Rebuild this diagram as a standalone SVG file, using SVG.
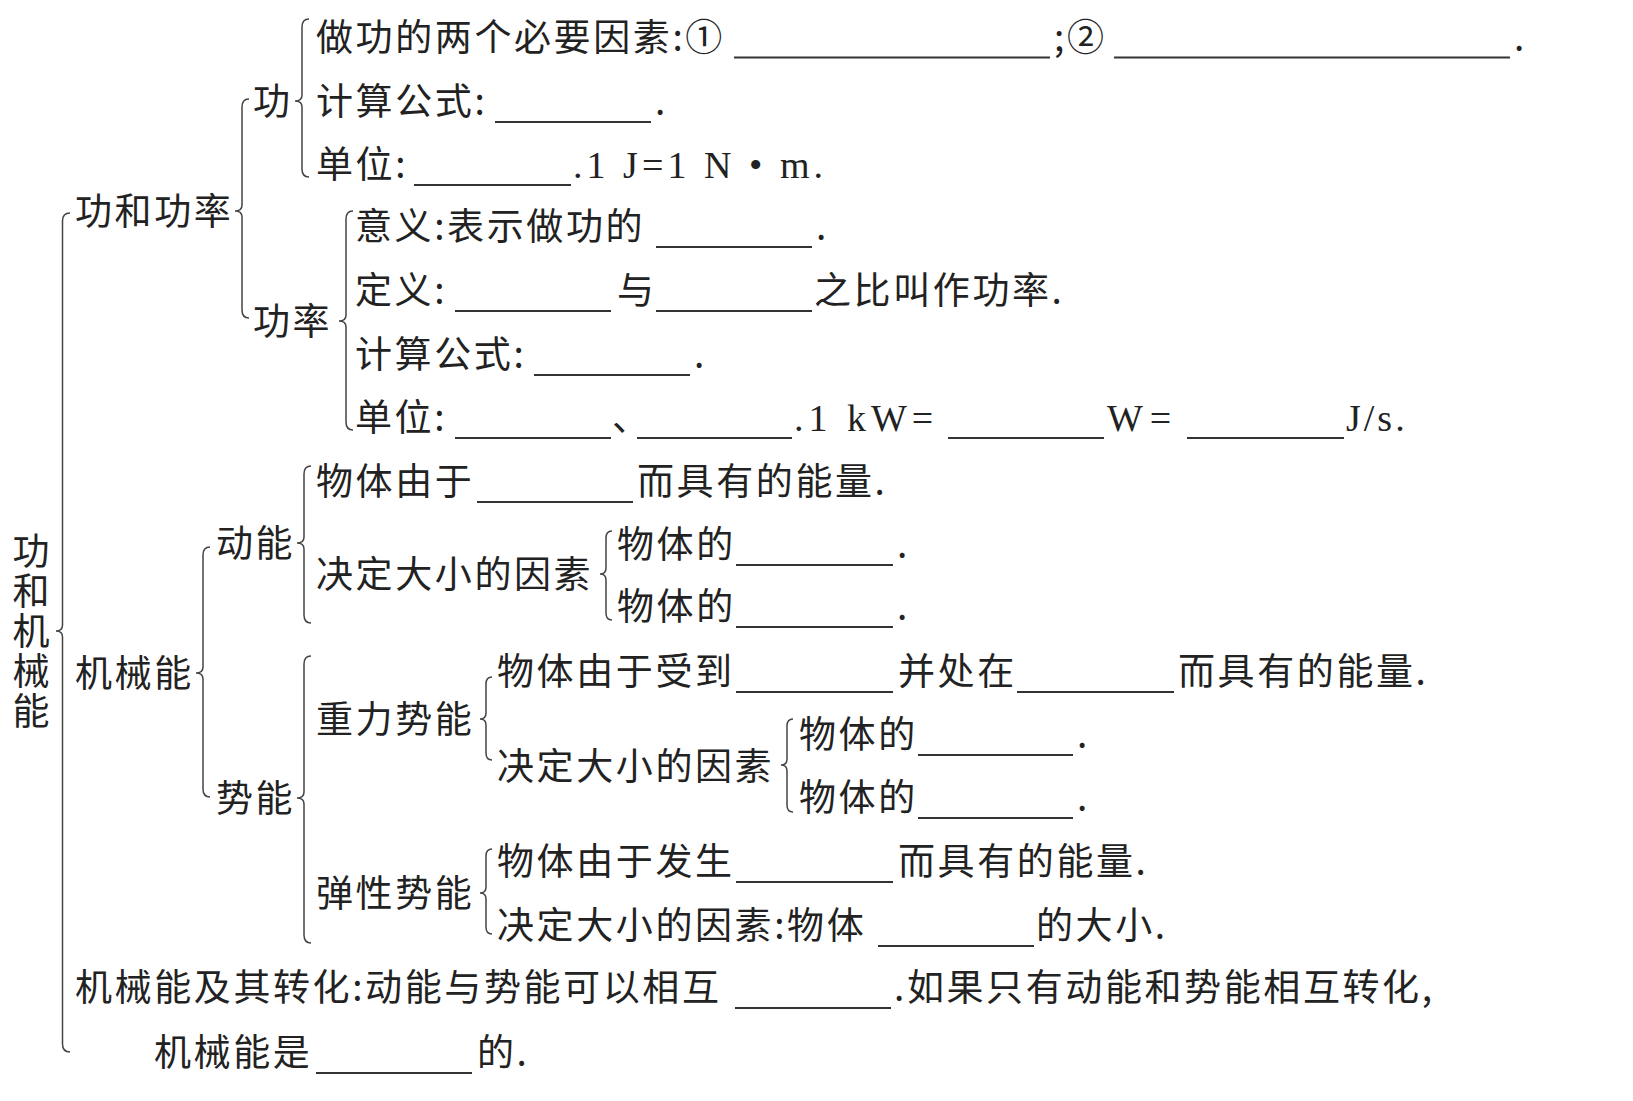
<svg xmlns="http://www.w3.org/2000/svg" width="1633" height="1101" viewBox="0 0 1633 1101">
<style>
.t{font-family:"Noto Sans CJK SC","Noto Sans CJK JP",sans-serif;font-size:37px;fill:#222;letter-spacing:2.6px}
.s{font-family:"Liberation Serif",serif;font-size:38px;fill:#222}
.u{stroke:#333;stroke-width:1.8;fill:none}
.b{stroke:#444;stroke-width:1.5;fill:none}
</style>
<rect width="1633" height="1101" fill="#fff"/>
<g id="connectors">
<path class="b" d="M70,213 Q62.5,213 62.5,221 L62.5,625 Q62.5,631 56,631 Q62.5,631 62.5,637 L62.5,1044 Q62.5,1052 70,1052"/>
<path class="b" d="M249,99 Q242,99 242,107 L242,205 Q242,211 235,211 Q242,211 242,217 L242,310 Q242,318 249,318"/>
<path class="b" d="M309,19 Q302,19 302,27 L302,95 Q302,101 295,101 Q302,101 302,107 L302,169 Q302,177 309,177"/>
<path class="b" d="M353,211 Q346,211 346,219 L346,315 Q346,321 339,321 Q346,321 346,327 L346,422 Q346,430 353,430"/>
<path class="b" d="M210,547 Q203,547 203,555 L203,667 Q203,673 196,673 Q203,673 203,679 L203,789 Q203,797 210,797"/>
<path class="b" d="M311,466 Q304,466 304,474 L304,537 Q304,543 297,543 Q304,543 304,549 L304,615 Q304,623 311,623"/>
<path class="b" d="M612,531 Q606,531 606,538 L606,568 Q606,574 600,574 Q606,574 606,580 L606,613 Q606,620 612,620"/>
<path class="b" d="M311,656 Q304,656 304,664 L304,792 Q304,798 297,798 Q304,798 304,804 L304,935 Q304,943 311,943"/>
<path class="b" d="M492,677 Q486,677 486,684 L486,713 Q486,719 480,719 Q486,719 486,725 L486,753 Q486,760 492,760"/>
<path class="b" d="M793,719 Q787,719 787,726 L787,759 Q787,765 781,765 Q787,765 787,771 L787,805 Q787,812 793,812"/>
<path class="b" d="M492,849 Q486,849 486,856 L486,887 Q486,893 480,893 Q486,893 486,899 L486,927 Q486,934 492,934"/>
</g>
<g id="root">
<text class="t" x="31" y="532" style="writing-mode:vertical-rl;letter-spacing:3px">功和机械能</text>
</g>
<g id="gonghegonglv"><text class="t" x="75" y="225">功和功率</text></g>
<g id="gong"><text class="t" x="253" y="115">功</text></g>
<g id="gong-yaosu">
<text class="t" x="316" y="50.5">做功的两个必要因素:①</text>
<line class="u" x1="734" y1="57.5" x2="1050" y2="57.5"/>
<text class="t" x="1054" y="50.5">;②</text>
<line class="u" x1="1114" y1="57.5" x2="1510" y2="57.5"/>
<text class="t" x="1514" y="50.5">.</text>
</g>
<g id="gong-gongshi">
<text class="t" x="316" y="115">计算公式:</text>
<line class="u" x1="495" y1="122" x2="651" y2="122"/>
<text class="t" x="655" y="115">.</text>
</g>
<g id="gong-danwei">
<text class="t" x="316" y="177.5">单位:</text>
<line class="u" x1="414" y1="185" x2="571" y2="185"/>
<text class="s" x="573" y="177.5" textLength="250" lengthAdjust="spacing">.1 J=1 N • m.</text>
</g>
<g id="gonglv"><text class="t" x="253" y="335">功率</text></g>
<g id="gonglv-yiyi">
<text class="t" x="355" y="240">意义:表示做功的</text>
<line class="u" x1="656" y1="247" x2="812" y2="247"/>
<text class="t" x="816" y="240">.</text>
</g>
<g id="gonglv-dingyi">
<text class="t" x="355" y="303.5">定义:</text>
<line class="u" x1="455" y1="311" x2="611" y2="311"/>
<text class="t" x="617" y="303.5">与</text>
<line class="u" x1="656" y1="311" x2="812" y2="311"/>
<text class="t" x="814" y="303.5">之比叫作功率.</text>
</g>
<g id="gonglv-gongshi">
<text class="t" x="355" y="368">计算公式:</text>
<line class="u" x1="534" y1="375" x2="690" y2="375"/>
<text class="t" x="694" y="368">.</text>
</g>
<g id="gonglv-danwei">
<text class="t" x="355" y="430.5">单位:</text>
<line class="u" x1="455" y1="438" x2="611" y2="438"/>
<text class="t" x="612" y="430.5">、</text>
<line class="u" x1="637" y1="438" x2="792" y2="438"/>
<text class="s" x="794" y="430.5" style="letter-spacing:5px">.1 kW=</text>
<line class="u" x1="948" y1="438" x2="1104" y2="438"/>
<text class="s" x="1107" y="430.5" style="letter-spacing:7px">W=</text>
<line class="u" x1="1187" y1="438" x2="1344" y2="438"/>
<text class="s" x="1346" y="430.5" style="letter-spacing:3px">J/s.</text>
</g>
<g id="jixieneng"><text class="t" x="75" y="687">机械能</text></g>
<g id="dongneng"><text class="t" x="216" y="556.6">动能</text></g>
<g id="dongneng-dingyi">
<text class="t" x="316" y="495">物体由于</text>
<line class="u" x1="477" y1="502" x2="633" y2="502"/>
<text class="t" x="637" y="495">而具有的能量.</text>
</g>
<g id="dongneng-yinsu"><text class="t" x="316" y="588">决定大小的因素</text></g>
<g id="dongneng-zhiliang">
<text class="t" x="617" y="557.7">物体的</text>
<line class="u" x1="736" y1="565" x2="893" y2="565"/>
<text class="t" x="897" y="557.7">.</text>
</g>
<g id="dongneng-sudu">
<text class="t" x="617" y="620">物体的</text>
<line class="u" x1="736" y1="627" x2="893" y2="627"/>
<text class="t" x="897" y="620">.</text>
</g>
<g id="shineng"><text class="t" x="216" y="812">势能</text></g>
<g id="zhongli"><text class="t" x="316" y="732.6">重力势能</text></g>
<g id="zhongli-dingyi">
<text class="t" x="497" y="685">物体由于受到</text>
<line class="u" x1="736" y1="692" x2="893" y2="692"/>
<text class="t" x="898" y="685">并处在</text>
<line class="u" x1="1017" y1="692" x2="1174" y2="692"/>
<text class="t" x="1178" y="685">而具有的能量.</text>
</g>
<g id="zhongli-yinsu"><text class="t" x="497" y="779.5">决定大小的因素</text></g>
<g id="zhongli-zhiliang">
<text class="t" x="799" y="748">物体的</text>
<line class="u" x1="918" y1="755" x2="1073" y2="755"/>
<text class="t" x="1077" y="748">.</text>
</g>
<g id="zhongli-gaodu">
<text class="t" x="799" y="811">物体的</text>
<line class="u" x1="918" y1="818" x2="1073" y2="818"/>
<text class="t" x="1077" y="811">.</text>
</g>
<g id="tanxing"><text class="t" x="316" y="906.6">弹性势能</text></g>
<g id="tanxing-dingyi">
<text class="t" x="497" y="875">物体由于发生</text>
<line class="u" x1="736" y1="882" x2="893" y2="882"/>
<text class="t" x="898" y="875">而具有的能量.</text>
</g>
<g id="tanxing-yinsu">
<text class="t" x="497" y="939">决定大小的因素:物体</text>
<line class="u" x1="878" y1="946" x2="1034" y2="946"/>
<text class="t" x="1036" y="939">的大小.</text>
</g>
<g id="zhuanhua">
<text class="t" x="75" y="1001">机械能及其转化:动能与势能可以相互</text>
<line class="u" x1="735" y1="1008" x2="891" y2="1008"/>
<text class="t" x="894" y="1001">.如果只有动能和势能相互转化,</text>
<text class="t" x="154" y="1066">机械能是</text>
<line class="u" x1="316" y1="1073" x2="472" y2="1073"/>
<text class="t" x="477" y="1066">的.</text>
</g>
</svg>
